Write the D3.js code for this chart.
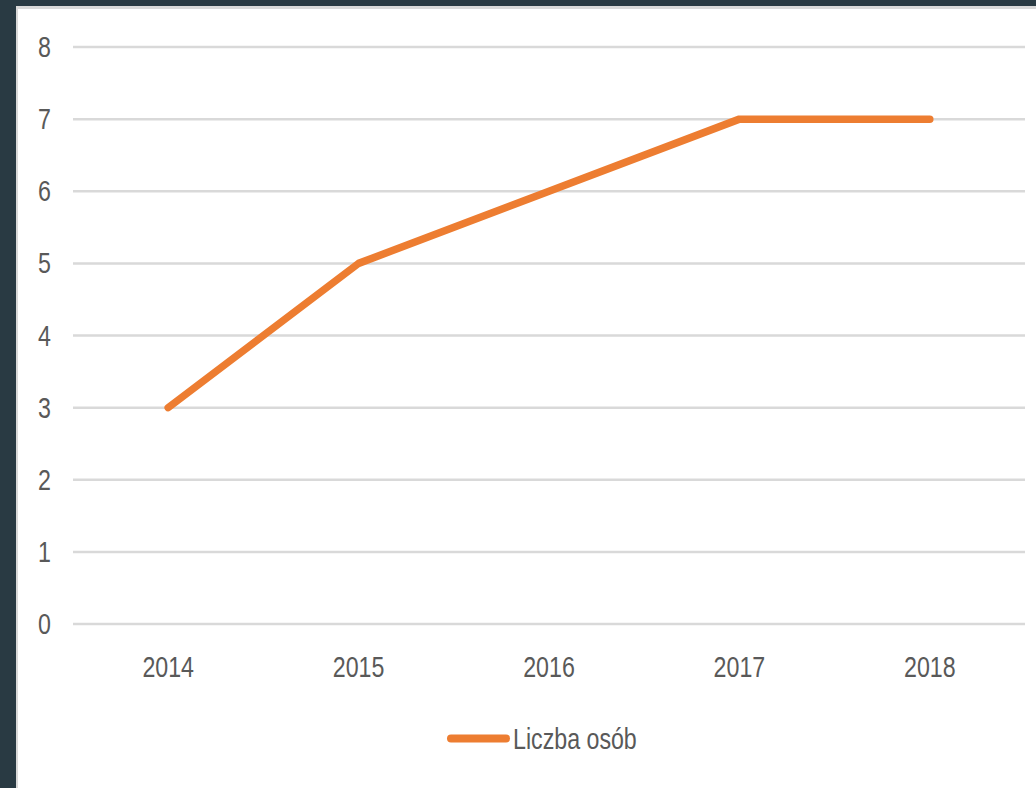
<!DOCTYPE html>
<html><head><meta charset="utf-8">
<script src="https://cdn.jsdelivr.net/npm/d3@7"></script>
<style>
html,body{margin:0;padding:0;background:#293a43;overflow:hidden;}
svg{display:block;}
</style></head>
<body>
<svg id="chart" width="1036" height="788"></svg>
<script>
const categories = ["2014","2015","2016","2017","2018"];
const values = [3,5,6,7,7];
const yTicks = [0,1,2,3,4,5,6,7,8];
const seriesName = "Liczba osób";

const svg = d3.select("#chart");
const font = "'Liberation Sans Narrow','Arial Narrow','Liberation Sans',sans-serif";
const sx = 0.8;
// panel
svg.append("rect").attr("x",0).attr("y",0).attr("width",1036).attr("height",788).attr("fill","#293a43");
svg.append("rect").attr("x",16).attr("y",6).attr("width",1020).attr("height",782).attr("fill","#d9d9d9");
svg.append("rect").attr("x",18).attr("y",9).attr("width",1018).attr("height",779).attr("fill","#ffffff");

const x = d3.scaleBand().domain(categories).range([73,1025]);
const y = d3.scaleLinear().domain([0,8]).range([624,47]);

const grid = svg.append("g");
grid.selectAll("line").data(yTicks).join("line")
  .attr("x1",73).attr("x2",1025)
  .attr("y1",d=>y(d)).attr("y2",d=>y(d))
  .attr("stroke","#d9d9d9").attr("stroke-width",2.5);

svg.append("g").selectAll("text").data(yTicks).join("text")
  .attr("transform",d=>`translate(51,${y(d)+10}) scale(${sx},1)`)
  .attr("text-anchor","end")
  .attr("font-family",font).attr("font-size",29).attr("fill","#595959")
  .text(d=>d);

svg.append("g").selectAll("text").data(categories).join("text")
  .attr("transform",d=>`translate(${x(d)+x.bandwidth()/2},677) scale(${sx},1)`)
  .attr("text-anchor","middle")
  .attr("font-family",font).attr("font-size",29).attr("fill","#595959")
  .text(d=>d);

const line = d3.line().x((d,i)=>x(categories[i])+x.bandwidth()/2).y(d=>y(d));
svg.append("path").datum(values).attr("d",line)
  .attr("fill","none").attr("stroke","#ed7d31").attr("stroke-width",7.5)
  .attr("stroke-linecap","round").attr("stroke-linejoin","round");

// legend
svg.append("line").attr("x1",451).attr("x2",506).attr("y1",738.5).attr("y2",738.5)
  .attr("stroke","#ed7d31").attr("stroke-width",8).attr("stroke-linecap","round");
svg.append("text").attr("transform",`translate(513,749) scale(${sx},1)`)
  .attr("font-family",font).attr("font-size",29).attr("fill","#595959")
  .text(seriesName);
</script>
</body></html>
